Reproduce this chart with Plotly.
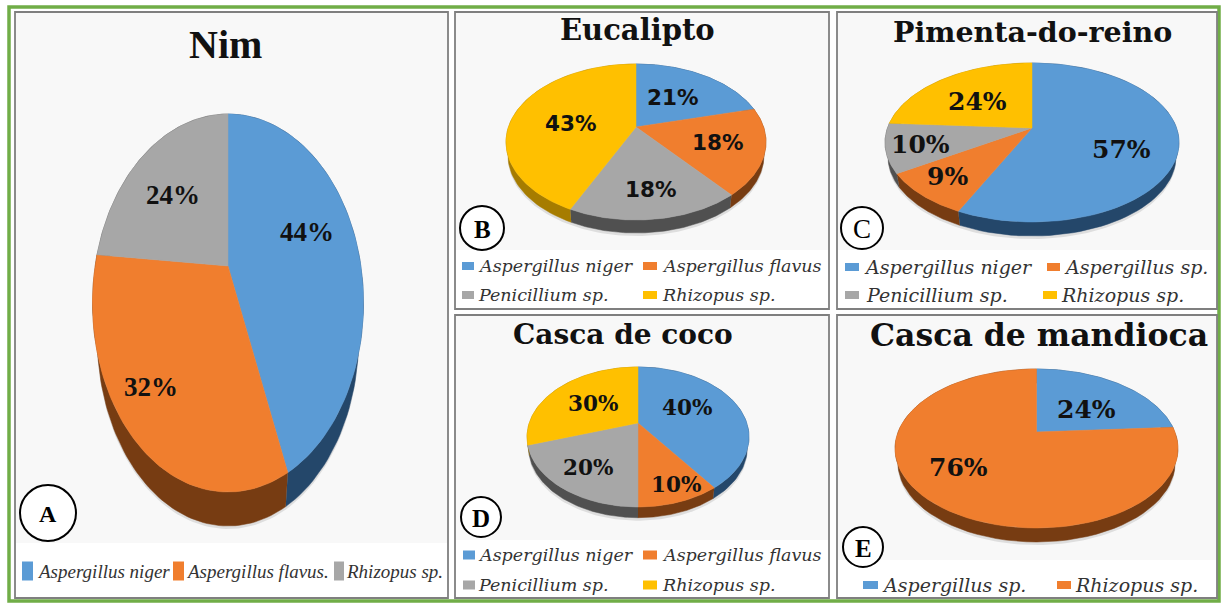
import numpy as np
import plotly.graph_objects as go

# ---------- data ----------
nim_species = ["Aspergillus niger", "Aspergillus flavus.", "Rhizopus sp."]
nim_values = [44, 32, 24]
eucalipto_species = ["Aspergillus niger", "Aspergillus flavus", "Penicillium sp.", "Rhizopus sp."]
eucalipto_values = [21, 18, 18, 43]
pimenta_species = ["Aspergillus niger", "Aspergillus sp.", "Penicillium sp.", "Rhizopus sp."]
pimenta_values = [57, 9, 10, 24]
coco_species = ["Aspergillus niger", "Aspergillus flavus", "Penicillium sp.", "Rhizopus sp."]
coco_values = [40, 10, 20, 30]
mandioca_species = ["Aspergillus sp.", "Rhizopus sp."]
mandioca_values = [24, 76]
panel_titles = ["Nim", "Eucalipto", "Pimenta-do-reino", "Casca de coco", "Casca de mandioca"]
panel_letters = ["A", "B", "C", "D", "E"]

# ---------- styles ----------
TOP = {"blue": "#5B9BD5", "orange": "#F07E2E", "gray": "#A7A7A7", "yellow": "#FFC000"}
SIDE = {"blue": "#24476A", "orange": "#773C12", "gray": "#505050", "yellow": "#A67C00"}
SERIF = "DejaVu Serif"
TIMES = "Liberation Serif"
SANS = "DejaVu Sans"

panels = [
    dict(species=nim_species, values=nim_values, colors=["blue", "orange", "gray"],
         box=(15, 12, 448, 598), band=543,
         apex=(228, 266), up=152, down=226, half=135.5, rim=34, shrink=0.965,
         title=(225, 44, TIMES, 40), label_font=(TIMES, 27),
         label_pos=[(307, 232), (151, 387), (173, 195)],
         badge=(48, 513, 28), badge_font=(TIMES, 24),
         legend_font=(TIMES, 19),
         legend=[(22, 571, 11, 19, 35), (173, 571, 11, 19, 184), (334, 571, 10, 19, 344)]),
    dict(species=eucalipto_species, values=eucalipto_values, colors=["blue", "orange", "gray", "yellow"],
         box=(455, 12, 829, 309), band=250,
         apex=(636, 127), up=63, down=93, half=130, rim=13, shrink=0.985,
         title=(637, 30, SERIF, 29), label_font=(SANS, 21.5),
         label_pos=[(672, 97), (717, 142), (650, 189), (570, 123)],
         badge=(482, 228, 22), badge_font=(TIMES, 25),
         legend_font=(SERIF, 17.5),
         legend=[(462, 266, 12, 8, 476), (643, 266, 14, 8, 660), (462, 295, 12, 8, 476), (643, 295, 14, 8, 660)]),
    dict(species=pimenta_species, values=pimenta_values, colors=["blue", "orange", "gray", "yellow"],
         box=(837, 12, 1217, 309), band=250,
         apex=(1032, 128), up=65, down=94, half=147, rim=14, shrink=0.98,
         title=(1032, 32, SERIF, 28.5), label_font=(SERIF, 25),
         label_pos=[(1121, 149), (947, 176), (920, 144), (977, 101)],
         badge=(862, 228, 21), badge_font=(TIMES, 27),
         legend_font=(SERIF, 19),
         legend=[(845, 267, 14, 8, 862), (1047, 267, 13, 8, 1062), (845, 295, 14, 8, 864), (1043, 295, 14, 8, 1059)]),
    dict(species=coco_species, values=coco_values, colors=["blue", "orange", "gray", "yellow"],
         box=(455, 315, 829, 598), band=540,
         apex=(638, 423), up=56, down=84, half=111, rim=10.7, shrink=0.985,
         title=(623, 334, SERIF, 28), label_font=(SERIF, 21.5),
         label_pos=[(687, 407), (676, 484), (588, 467), (593, 403)],
         badge=(481, 517, 20), badge_font=(TIMES, 25),
         legend_font=(SERIF, 17.5),
         legend=[(463, 555, 12, 9, 476), (643, 555, 14, 9, 660), (463, 585, 12, 9, 476), (643, 585, 14, 9, 660)]),
    dict(species=mandioca_species, values=mandioca_values, colors=["blue", "orange"],
         box=(837, 315, 1217, 598), band=560,
         apex=(1036.5, 432), up=63, down=96, half=141.5, rim=14, shrink=0.98,
         title=(1039, 334, SERIF, 31.5), label_font=(SERIF, 25),
         label_pos=[(1086, 409), (958, 467)],
         badge=(863, 547, 20), badge_font=(TIMES, 25),
         legend_font=(SERIF, 19),
         legend=[(863, 585, 15, 8, 880), (1057, 585, 14, 8, 1073)]),
]


def wedge(start, stop, p, n=80):
    """Arc of one slice on the perspective-projected pie disc (fractions run clockwise from 12 o'clock)."""
    ratio = p["down"] / p["up"]
    k = (ratio - 1) / (ratio + 1)
    b = p["up"] * (1 + k)
    a = p["half"] * np.sqrt(1 - k * k)
    t = 2 * np.pi * np.linspace(start, stop, n)
    u, v = np.sin(t), np.cos(t)
    w = 1 + k * v
    return p["apex"][0] + a * u / w, p["apex"][1] - b * v / w


def lower(ax, ay, p, extra=0.0):
    """Matching arc on the underside of the pie."""
    cx = p["apex"][0]
    return cx + (ax - cx) * p["shrink"], ay + p["rim"] + extra


fig = go.Figure()
shapes, notes = [], []


def text(x, y, s, font, size, color="#111111", bold=False, italic=False, anchor="center"):
    if bold:
        s = f"<b>{s}</b>"
    if italic:
        s = f"<i>{s}</i>"
    notes.append(dict(x=x, y=y, xref="x", yref="y", text=s, showarrow=False, xanchor=anchor, yanchor="middle",
                      font=dict(family=font, size=size, color=color)))


# outer green frame
shapes.append(dict(type="rect", x0=9, y0=7, x1=1219, y1=601, line=dict(color="#70AD47", width=3.5), fillcolor="white", layer="below"))

for i, p in enumerate(panels):
    x0, y0, x1, y1 = p["box"]
    shapes.append(dict(type="rect", x0=x0, y0=y0, x1=x1, y1=y1, fillcolor="#F8F8F8", line=dict(color="#7F7F7F", width=1.8), layer="below"))
    shapes.append(dict(type="rect", x0=x0 + 1, y0=p["band"], x1=x1 - 1, y1=y1 - 1, fillcolor="#FFFFFF", line=dict(width=0), layer="below"))

    total = sum(p["values"])
    edges = np.cumsum([0] + p["values"]) / total

    # soft shadow under the pie
    sx, sy = wedge(0, 1, p, 240)
    lx, ly = lower(sx, sy, p, 3)
    fig.add_trace(go.Scatter(x=lx, y=ly, mode="lines", fill="toself", fillcolor="rgba(0,0,0,0.10)",
                             line=dict(width=0), hoverinfo="skip", showlegend=False))
    # side walls first
    for j, c in enumerate(p["colors"]):
        ax, ay = wedge(edges[j], edges[j + 1], p)
        lx, ly = lower(ax, ay, p)
        fig.add_trace(go.Scatter(x=np.r_[ax, lx[::-1]], y=np.r_[ay, ly[::-1]], mode="lines", fill="toself",
                                 fillcolor=SIDE[c], line=dict(color=SIDE[c], width=0.5), hoverinfo="skip", showlegend=False))
    # top faces
    for j, c in enumerate(p["colors"]):
        ax, ay = wedge(edges[j], edges[j + 1], p)
        fig.add_trace(go.Scatter(x=np.r_[p["apex"][0], ax, p["apex"][0]], y=np.r_[p["apex"][1], ay, p["apex"][1]],
                                 mode="lines", fill="toself", fillcolor=TOP[c], line=dict(color=TOP[c], width=0.5),
                                 name=f'{p["species"][j]} {p["values"][j]}%', hoverinfo="name", showlegend=False))

    # title
    tx, ty, tf, ts = p["title"]
    text(tx, ty, panel_titles[i], tf, ts, bold=True)
    # slice labels
    lf, ls = p["label_font"]
    for v, (lx, ly) in zip(p["values"], p["label_pos"]):
        text(lx, ly, f"{v}%", lf, ls, bold=True)
    # letter badge
    bx, by, br = p["badge"]
    shapes.append(dict(type="circle", x0=bx - br, y0=by - br, x1=bx + br, y1=by + br, fillcolor="white", line=dict(color="#000000", width=2)))
    text(bx, by + 1, panel_letters[i], p["badge_font"][0], p["badge_font"][1], color="#000000", bold=panel_letters[i] != "C")
    # legend
    gf, gs = p["legend_font"]
    for name, c, (sqx, sqy, sqw, sqh, txt) in zip(p["species"], p["colors"], p["legend"]):
        shapes.append(dict(type="rect", x0=sqx, y0=sqy - sqh / 2, x1=sqx + sqw, y1=sqy + sqh / 2, fillcolor=TOP[c], line=dict(width=0)))
        text(txt, sqy, name, gf, gs, color="#333333", italic=True, anchor="left")

fig.update_layout(
    width=1223, height=604, margin=dict(l=0, r=0, t=0, b=0), autosize=False,
    paper_bgcolor="white", plot_bgcolor="white", showlegend=False,
    xaxis=dict(range=[0, 1223], visible=False, fixedrange=True),
    yaxis=dict(range=[604, 0], visible=False, fixedrange=True),
    shapes=shapes, annotations=notes,
)
fig.write_html("out.html", post_script="document.body.style.margin='0';document.documentElement.style.overflow='hidden';",
               config={"displayModeBar": False})
